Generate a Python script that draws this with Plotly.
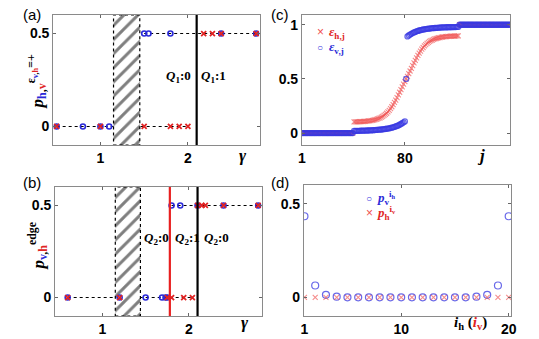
import plotly.graph_objects as go

# ---------------- data ----------------
# panel (a)
a_gamma_v = [0.5, 0.8, 1.0, 1.1, 1.5, 1.55, 1.8, 2.38, 2.78]
a_p_v = [0, 0, 0, 0, 0.5, 0.5, 0.5, 0.5, 0.5]
a_gamma_h = [0.5, 1.0, 1.5, 1.8, 1.9, 2.0, 2.18, 2.28, 2.38, 2.78]
a_p_h = [0, 0, 0, 0, 0, 0, 0.5, 0.5, 0.5, 0.5]
a_hatch = [1.15, 1.45]
a_black_lines = [2.1]

# panel (b)
b_gamma_v = [0.6, 1.2, 1.5, 1.69, 1.73, 1.75, 1.8, 1.9, 2.1, 2.4, 2.8]
b_p_v = [0, 0, 0, 0, 0, 0, 0.5, 0.5, 0.5, 0.5, 0.5]
b_gamma_h = [0.6, 1.2, 1.75, 1.8, 1.94, 2.04, 2.1, 2.15, 2.19, 2.4, 2.8]
b_p_h = [0, 0, 0, 0, 0, 0, 0.5, 0.5, 0.5, 0.5, 0.5]
b_hatch = [1.15, 1.44]
b_red_lines = [1.78]
b_black_lines = [2.1]

# panel (c)
c_j = list(range(1, 162))
c_eps_h = ([0.0] * 40 +
           [0.103, 0.103, 0.104, 0.104, 0.105, 0.106, 0.106, 0.107, 0.108, 0.109,
            0.110, 0.112, 0.113, 0.115, 0.118, 0.120, 0.123, 0.127, 0.131, 0.136,
            0.141, 0.147, 0.154, 0.163, 0.172, 0.183, 0.196, 0.210, 0.226, 0.243,
            0.262, 0.283, 0.305, 0.328, 0.352, 0.377, 0.402, 0.427, 0.451, 0.476,
            0.500,
            0.524, 0.549, 0.573, 0.598, 0.623, 0.648, 0.672, 0.695, 0.717, 0.738,
            0.757, 0.774, 0.790, 0.804, 0.817, 0.828, 0.837, 0.846, 0.853, 0.859,
            0.864, 0.869, 0.873, 0.877, 0.880, 0.882, 0.885, 0.887, 0.888, 0.890,
            0.891, 0.892, 0.893, 0.894, 0.894, 0.895, 0.896, 0.896, 0.897, 0.897] +
           [1.0] * 40)
c_eps_v = ([0.0] * 40 +
           [0.020, 0.020, 0.021, 0.021, 0.021, 0.022, 0.022, 0.022, 0.023, 0.023,
            0.024, 0.024, 0.025, 0.025, 0.026, 0.027, 0.028, 0.029, 0.030, 0.031,
            0.032, 0.033, 0.035, 0.036, 0.038, 0.040, 0.042, 0.044, 0.047, 0.050,
            0.053, 0.057, 0.061, 0.066, 0.071, 0.077, 0.084, 0.091, 0.099, 0.108,
            0.500,
            0.892, 0.901, 0.909, 0.916, 0.923, 0.929, 0.934, 0.939, 0.943, 0.947,
            0.950, 0.953, 0.956, 0.958, 0.960, 0.962, 0.964, 0.965, 0.967, 0.968,
            0.969, 0.970, 0.971, 0.972, 0.973, 0.974, 0.975, 0.975, 0.976, 0.976,
            0.977, 0.977, 0.978, 0.978, 0.978, 0.979, 0.979, 0.979, 0.980, 0.980] +
           [1.0] * 40)

# panel (d)
d_i = list(range(1, 21))
d_p_v = [0.433, 0.063, 0.013, 0.003, 0, 0, 0, 0, 0, 0,
         0, 0, 0, 0, 0, 0, 0.003, 0.013, 0.063, 0.433]
d_p_h = [0] * 20

# ---------------- styles ----------------
BLUE = "#2a2ad8"
RED = "#e02424"
BLUE_L = "rgba(55,55,225,0.75)"
RED_L = "rgba(240,80,80,0.65)"
TICKFONT = dict(family="Liberation Sans", size=14, color="black", weight="bold")
YR_AB = [-0.1, 0.6]
W, H = 539, 339

fig = go.Figure()


def gamma_panel(xa, ya, gv, pv, gh, ph, hatch):
    # dotted guide lines per level, spanning the points at that level
    for lev in sorted(set(pv) | set(ph)):
        xs = [g for g, p in zip(gv, pv) if p == lev] + [g for g, p in zip(gh, ph) if p == lev]
        fig.add_trace(go.Scatter(x=[min(xs), max(xs)], y=[lev, lev], mode="lines",
                                 line=dict(color="black", width=1.1, dash="dot"),
                                 xaxis=xa, yaxis=ya, showlegend=False, hoverinfo="skip"))
    # hatched region
    fig.add_trace(go.Scatter(x=[hatch[0], hatch[1], hatch[1], hatch[0], hatch[0]],
                             y=[YR_AB[0], YR_AB[0], YR_AB[1], YR_AB[1], YR_AB[0]],
                             mode="lines", fill="toself", fillcolor="white",
                             fillpattern=dict(shape="/", fgcolor="black", bgcolor="white",
                                              size=10, solidity=0.3),
                             line=dict(color="black", width=1.2, dash="dot"),
                             xaxis=xa, yaxis=ya, showlegend=False, hoverinfo="skip"))
    fig.add_trace(go.Scatter(x=gv, y=pv, mode="markers",
                             marker=dict(symbol="circle-open", size=5, color=BLUE,
                                         line=dict(width=1.6, color=BLUE)),
                             xaxis=xa, yaxis=ya, showlegend=False))
    fig.add_trace(go.Scatter(x=gh, y=ph, mode="markers",
                             marker=dict(symbol="x-thin-open", size=5, color=RED,
                                         line=dict(width=1.8, color=RED)),
                             xaxis=xa, yaxis=ya, showlegend=False))


gamma_panel("x", "y", a_gamma_v, a_p_v, a_gamma_h, a_p_h, a_hatch)
gamma_panel("x3", "y3", b_gamma_v, b_p_v, b_gamma_h, b_p_h, b_hatch)

# panel (c)
fig.add_trace(go.Scatter(x=c_j, y=c_eps_h, mode="markers", name="ε_h,j",
                         marker=dict(symbol="x-thin-open", size=5, color=RED_L,
                                     line=dict(width=1.1, color=RED_L)),
                         xaxis="x2", yaxis="y2", showlegend=False))
fig.add_trace(go.Scatter(x=c_j, y=c_eps_v, mode="markers", name="ε_v,j",
                         marker=dict(symbol="circle-open", size=5, color=BLUE_L,
                                     line=dict(width=1.3, color=BLUE_L)),
                         xaxis="x2", yaxis="y2", showlegend=False))

# panel (d)
fig.add_trace(go.Scatter(x=d_i, y=d_p_v, mode="markers", name="p_v^i_h",
                         marker=dict(symbol="circle-open", size=7, color=BLUE_L,
                                     line=dict(width=1.2, color=BLUE_L)),
                         xaxis="x4", yaxis="y4", showlegend=False))
fig.add_trace(go.Scatter(x=d_i, y=d_p_h, mode="markers", name="p_h^i_v",
                         marker=dict(symbol="x-thin-open", size=5, color=RED_L,
                                     line=dict(width=1.1, color=RED_L)),
                         xaxis="x4", yaxis="y4", showlegend=False))


def px_dom(a, b, total, flip=False):
    if flip:
        return [1 - b / total, 1 - a / total]
    return [a / total, b / total]


def axis(domain, rng, tickvals, anchor):
    return dict(domain=domain, range=rng, tickvals=tickvals, anchor=anchor,
                ticks="inside", ticklen=3, tickcolor="#666", showline=True,
                linecolor="#8a8a8a", linewidth=1, mirror="ticks", showgrid=False,
                zeroline=False, tickfont=TICKFONT)


shapes = []
for g in a_black_lines:
    shapes.append(dict(type="line", xref="x", yref="y domain", x0=g, x1=g, y0=0, y1=1,
                       line=dict(color="black", width=2.2)))
for g in b_red_lines:
    shapes.append(dict(type="line", xref="x3", yref="y3 domain", x0=g, x1=g, y0=0, y1=1,
                       line=dict(color="#e82020", width=2.2)))
for g in b_black_lines:
    shapes.append(dict(type="line", xref="x3", yref="y3 domain", x0=g, x1=g, y0=0, y1=1,
                       line=dict(color="black", width=2.2)))


def ann(x, y, text, xref="paper", yref="paper", size=14, family="Liberation Sans",
        xanchor="center", yanchor="middle", angle=0, color="black"):
    return dict(x=x, y=y, xref=xref, yref=yref, text=text, showarrow=False,
                xanchor=xanchor, yanchor=yanchor, textangle=angle,
                font=dict(family=family, size=size, color=color))


SER = "Liberation Serif"
annotations = [
    ann(17 / W, 1 - 4 / H, "(a)", xanchor="left", yanchor="top", size=15),
    ann(270 / W, 1 - 4 / H, "(c)", xanchor="left", yanchor="top", size=15),
    ann(17 / W, 1 - 172 / H, "(b)", xanchor="left", yanchor="top", size=15),
    ann(270 / W, 1 - 172 / H, "(d)", xanchor="left", yanchor="top", size=15),
    # phase labels
    ann(2.06, 0.27, "<b><i>Q</i><sub>1</sub>:0</b>", xref="x", yref="y",
        family=SER, size=13, xanchor="right"),
    ann(2.13, 0.27, "<b><i>Q</i><sub>1</sub>:1</b>", xref="x", yref="y",
        family=SER, size=13, xanchor="left"),
    ann(1.46, 0.32, "<b><i>Q</i><sub>2</sub>:0</b>", xref="x3", yref="y3",
        family=SER, size=13, xanchor="left"),
    ann(1.815, 0.32, "<b><i>Q</i><sub>2</sub>:1</b>", xref="x3", yref="y3",
        family=SER, size=13, xanchor="left"),
    ann(2.15, 0.32, "<b><i>Q</i><sub>2</sub>:0</b>", xref="x3", yref="y3",
        family=SER, size=13, xanchor="left"),
    # legends (c)
    ann(316 / W, 1 - 32 / H, "<span style='color:rgb(240,80,80)'>×</span>",
        size=12, xanchor="left"),
    ann(328 / W, 1 - 32 / H,
        "<span style='color:#e02424'><b><i>ε</i><sub>h,j</sub></b></span>",
        family=SER, size=13, xanchor="left"),
    ann(316 / W, 1 - 47 / H, "<span style='color:#3737e1'>○</span>",
        size=10, xanchor="left"),
    ann(328 / W, 1 - 47 / H,
        "<span style='color:#2a2ad8'><b><i>ε</i><sub>v,j</sub></b></span>",
        family=SER, size=13, xanchor="left"),
    # legends (d)
    ann(366 / W, 1 - 198 / H, "<span style='color:#3737e1'>○</span>",
        size=10, xanchor="left"),
    ann(377 / W, 1 - 198 / H,
        "<span style='color:#2a2ad8'><b><i>p</i><sub>v</sub><sup>i<sub>h</sub></sup></b></span>",
        family=SER, size=13, xanchor="left"),
    ann(366 / W, 1 - 213 / H, "<span style='color:rgb(240,80,80)'>×</span>",
        size=12, xanchor="left"),
    ann(377 / W, 1 - 213 / H,
        "<span style='color:#e02424'><b><i>p</i><sub>h</sub><sup>i<sub>v</sub></sup></b></span>",
        family=SER, size=13, xanchor="left"),
    # axis titles
    ann(243 / W, 1 - 155 / H, "<b><i>γ</i></b>", family=SER, size=17),
    ann(245 / W, 1 - 322 / H, "<b><i>γ</i></b>", family=SER, size=17),
    ann(485 / W, 1 - 155 / H, "<b><i>j</i></b>", family=SER, size=17),
    ann(474 / W, 1 - 323 / H,
        "<b><i>i</i><sub>h</sub> (<span style='color:#e02424'><i>i</i><sub>v</sub></span>)</b>",
        family=SER, size=15),
    ann(34 / W, 1 - 82 / H,
        "<b><i>p</i><sub><span style='color:#2a2ad8'>h</span>,<span style='color:#e02424'>v</span></sub>"
        "<sup>ε<sub><span style='color:#2a2ad8'>v</span>,<span style='color:#e02424'>h</span></sub>=+</sup></b>",
        family=SER, size=17, angle=-90),
    ann(34 / W, 1 - 246 / H,
        "<b><i>p</i><sub><span style='color:#2a2ad8'>v</span>,<span style='color:#e02424'>h</span></sub>"
        "<sup>edge</sup></b>",
        family=SER, size=17, angle=-90),
]

fig.update_layout(
    width=W, height=H, margin=dict(l=0, r=0, t=0, b=0),
    paper_bgcolor="white", plot_bgcolor="white", showlegend=False,
    xaxis=axis(px_dom(50, 260, W), [0.46, 2.82], [1, 2], "y"),
    yaxis=axis(px_dom(15, 145, H, True), YR_AB, [0, 0.5], "x"),
    xaxis2=axis(px_dom(303, 515, W), [1, 161], [1, 80], "y2"),
    yaxis2=axis(px_dom(15, 145, H, True), [-0.11, 1.09], [0, 0.5, 1], "x2"),
    xaxis3=axis(px_dom(52, 262, W), [0.455, 2.84], [1, 2], "y3"),
    yaxis3=axis(px_dom(187, 316, H, True), YR_AB, [0, 0.5], "x3"),
    xaxis4=axis(px_dom(305, 516, W), [0.95, 20.25], [1, 10, 20], "y4"),
    yaxis4=axis(px_dom(185, 316, H, True), YR_AB, [0, 0.5], "x4"),
    shapes=shapes,
    annotations=annotations,
)

fig.write_html("out.html")
